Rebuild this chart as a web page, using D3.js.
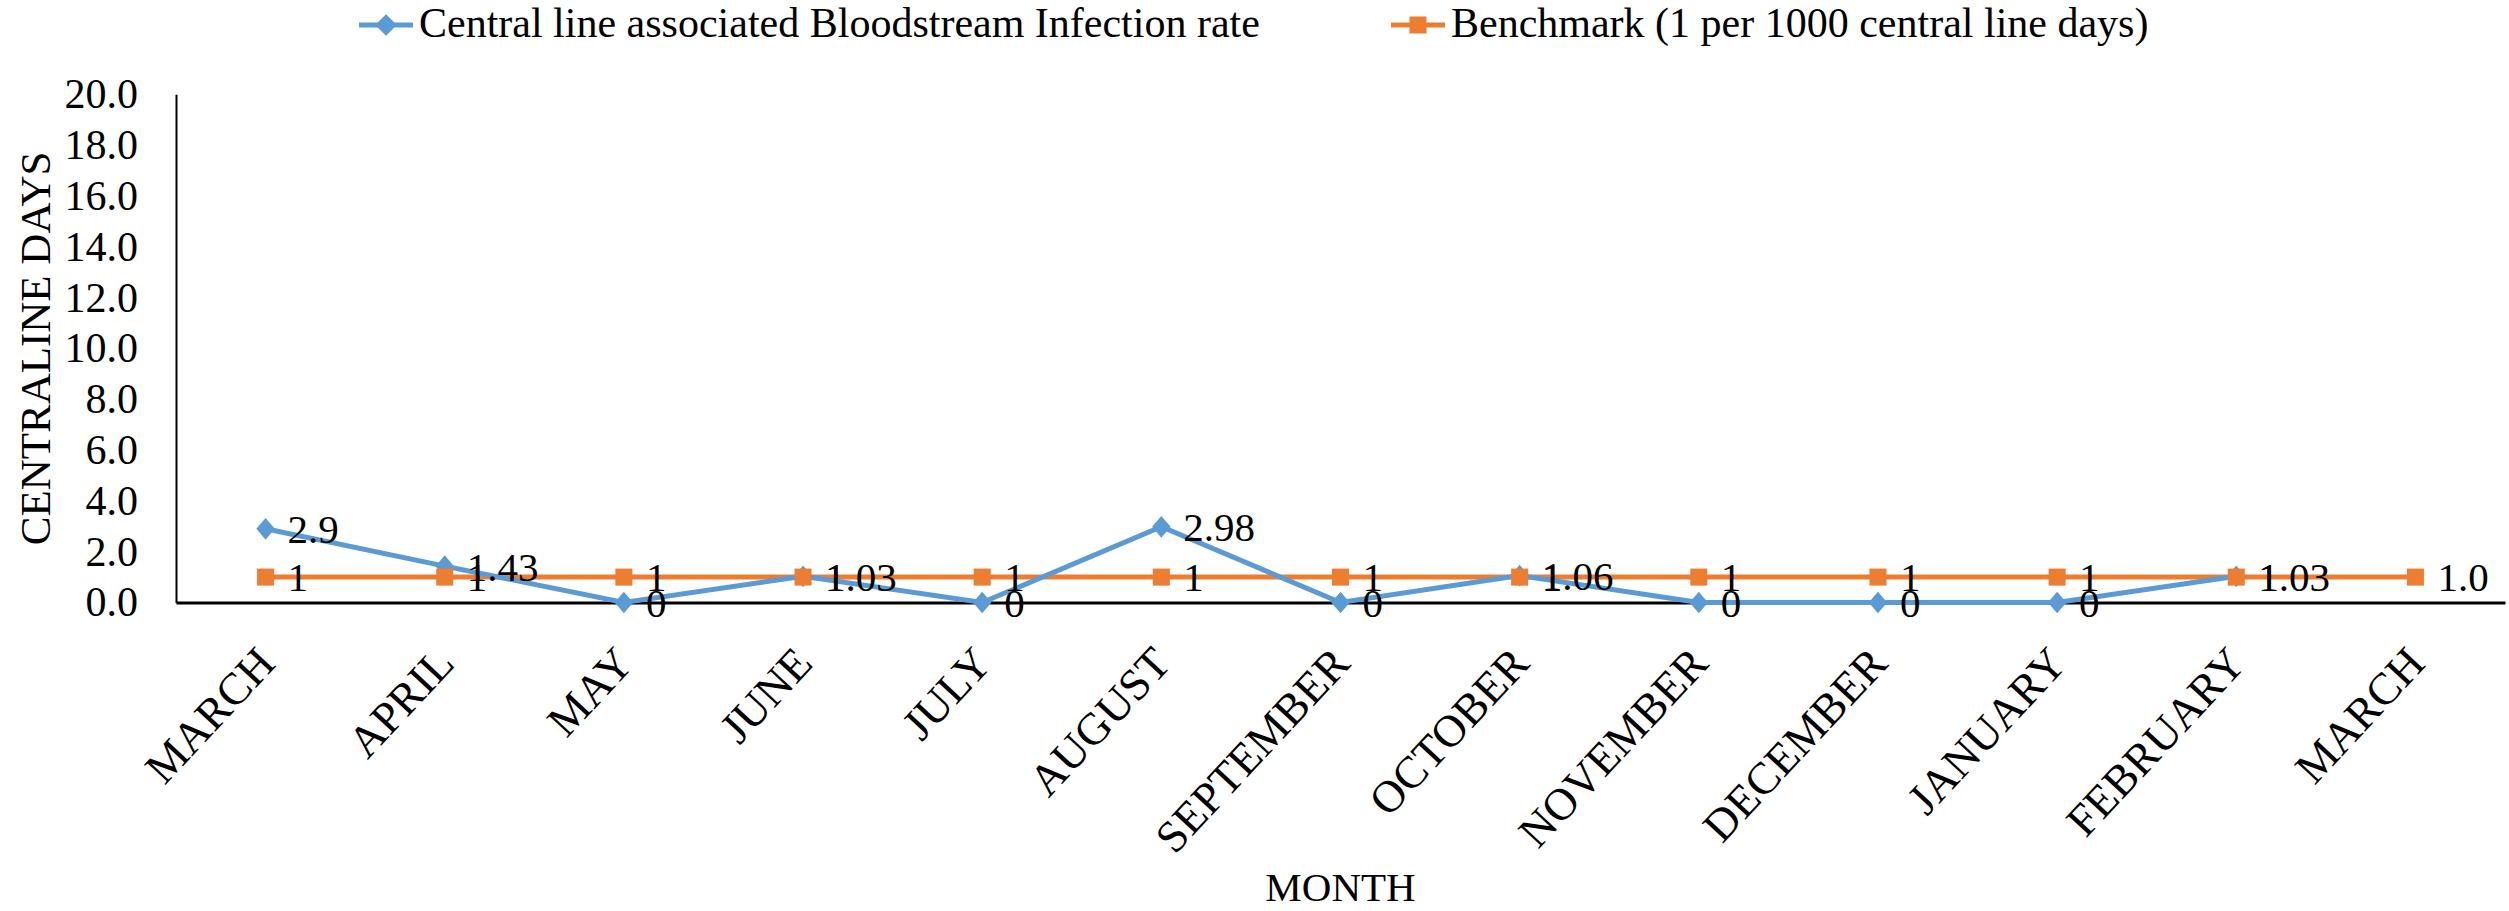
<!DOCTYPE html>
<html lang="en">
<head>
    <meta charset="UTF-8">
    <title>CLABSI rate</title>
    <script src="https://d3js.org/d3.v7.min.js"></script>
    <style>
        body { margin: 0; background: #fff; }
        text { font-family: "Liberation Serif", "Times New Roman", serif; fill: #000; }
    </style>
</head>
<body>
    <script type="text/javascript">
        var width = 2509, height = 911;
        var months = ["MARCH", "APRIL", "MAY", "JUNE", "JULY", "AUGUST", "SEPTEMBER",
                      "OCTOBER", "NOVEMBER", "DECEMBER", "JANUARY", "FEBRUARY", "MARCH "];
        var rate = [2.9, 1.43, 0, 1.03, 0, 2.98, 0, 1.06, 0, 0, 0, 1.03];
        var rateLabels = ["2.9", "1.43", "0", "1.03", "0", "2.98", "0", "1.06", "0", "0", "0", "1.03"];
        var benchmark = [1, 1, 1, 1, 1, 1, 1, 1, 1, 1, 1, 1, 1];
        var benchLabels = ["1", "1", "1", "1", "1", "1", "1", "1", "1", "1", "1", "1", "1.0"];
        var yTicks = [0, 2, 4, 6, 8, 10, 12, 14, 16, 18, 20];
        var seriesNames = ["Central line associated Bloodstream Infection rate",
                           "Benchmark (1 per 1000 central line days)"];
        var blue = "#5b9bd5", orange = "#ed7d31";
        var fs = 41;

        var svg = d3.select("body").append("svg")
                    .attr("width", width)
                    .attr("height", height);

        var plotLeft = 176, plotRight = 2505, plotTop = 94.3, plotBottom = 602.5;

        var x = d3.scaleBand().domain(d3.range(months.length)).range([plotLeft, plotRight]);
        var y = d3.scaleLinear().domain([0, 20]).range([plotBottom, plotTop]);
        function cx(i) { return x(i) + x.bandwidth() / 2; }

        // y axis
        var yAxis = svg.append("g")
            .attr("transform", "translate(" + plotLeft + ",0)")
            .call(d3.axisLeft(y).tickValues(yTicks).tickFormat(d3.format(".1f")).tickSize(0).tickPadding(38));
        yAxis.select(".domain").attr("stroke", "#000").attr("stroke-width", 2);
        yAxis.selectAll("text").style("font-size", "42px");

        // x axis
        var xAxis = svg.append("g")
            .attr("transform", "translate(0," + plotBottom + ")")
            .call(d3.axisBottom(x).tickSize(0).tickFormat(function (i) { return months[i].trim(); }));
        xAxis.select(".domain").attr("stroke", "#000").attr("stroke-width", 3);
        xAxis.selectAll("text")
            .style("font-size", "45px")
            .attr("text-anchor", "end")
            .attr("y", 0)
            .attr("dy", "0.35em")
            .attr("transform", "translate(0,52) rotate(-47)");

        // axis titles
        svg.append("text")
            .attr("transform", "translate(35," + ((plotTop + plotBottom) / 2) + ") rotate(-90)")
            .attr("text-anchor", "middle")
            .attr("dy", "0.35em")
            .style("font-size", "43px")
            .text("CENTRALINE DAYS");

        svg.append("text")
            .attr("x", (plotLeft + plotRight) / 2)
            .attr("y", 901)
            .attr("text-anchor", "middle")
            .style("font-size", fs + "px")
            .text("MONTH");

        var line = d3.line().x(function (d, i) { return cx(i); }).y(function (d) { return y(d); });
        var diamond = d3.symbol().type(d3.symbolDiamond2).size(300);
        var square = d3.symbol().type(d3.symbolSquare).size(290);

        svg.append("path").datum(benchmark)
            .attr("d", line).attr("fill", "none")
            .attr("stroke", orange).attr("stroke-width", 5);

        svg.append("path").datum(rate)
            .attr("d", line).attr("fill", "none")
            .attr("stroke", blue).attr("stroke-width", 5);

        svg.selectAll(".bm").data(rate).enter().append("path")
            .attr("class", "bm")
            .attr("transform", function (d, i) { return "translate(" + cx(i) + "," + y(d) + ") scale(0.85,1)"; })
            .attr("d", diamond)
            .attr("fill", blue);

        svg.selectAll(".om").data(benchmark).enter().append("path")
            .attr("class", "om")
            .attr("transform", function (d, i) { return "translate(" + cx(i) + "," + y(d) + ")"; })
            .attr("d", square)
            .attr("fill", orange);

        // data labels
        svg.selectAll(".ol").data(benchmark).enter().append("text")
            .attr("class", "ol")
            .attr("x", function (d, i) { return cx(i) + 22; })
            .attr("y", function (d) { return y(d); })
            .attr("dy", "0.35em")
            .style("font-size", fs + "px")
            .text(function (d, i) { return benchLabels[i]; });

        svg.selectAll(".bl").data(rate).enter().append("text")
            .attr("class", "bl")
            .attr("x", function (d, i) { return cx(i) + 22; })
            .attr("y", function (d) { return y(d); })
            .attr("dy", "0.35em")
            .style("font-size", fs + "px")
            .text(function (d, i) { return rateLabels[i]; });

        // legend
        var legX = [359, 1391];
        var legColors = [blue, orange];
        var legSymbols = [diamond, square];
        var leg = svg.selectAll(".leg").data(seriesNames).enter().append("g")
            .attr("class", "leg")
            .attr("transform", function (d, i) { return "translate(" + legX[i] + ",25)"; });
        leg.append("line")
            .attr("x1", 0).attr("x2", 54)
            .attr("stroke", function (d, i) { return legColors[i]; })
            .attr("stroke-width", 5);
        leg.append("path")
            .attr("transform", "translate(27,0)")
            .attr("d", function (d, i) { return legSymbols[i](); })
            .attr("fill", function (d, i) { return legColors[i]; });
        leg.append("text")
            .attr("x", 60)
            .attr("y", 12)
            .style("font-size", "42px")
            .text(function (d) { return d; });
    </script>
</body>
</html>
